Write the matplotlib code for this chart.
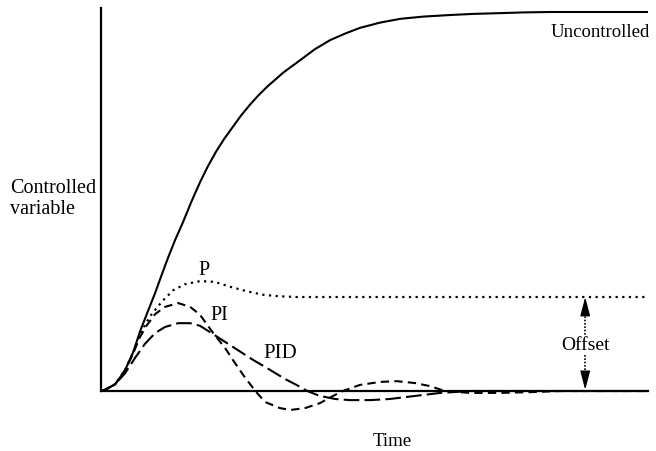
"""
Step responses of a controlled variable: uncontrolled, P, PI and PID control.
"""

import matplotlib
matplotlib.use('Agg')
import matplotlib.pyplot as plt

plt.rcParams['font.family'] = ['Liberation Serif', 'DejaVu Serif']

# Data (time 0..10, uncontrolled final value = 1)
unc_t = [0, 0.07, 0.26, 0.44, 0.59, 0.71, 0.85, 0.99, 1.10, 1.21, 1.35, 1.50,
         1.65, 1.81, 1.95, 2.10, 2.25, 2.41, 2.56, 2.72, 2.87, 3.03, 3.33,
         3.64, 3.91, 4.19, 4.46, 4.73, 5.10, 5.47, 5.90, 6.38, 6.80, 7.29,
         7.75, 8.21, 9.98]
unc_y = [0, 0.003, 0.018, 0.055, 0.103, 0.156, 0.208, 0.259, 0.303, 0.346,
         0.397, 0.446, 0.499, 0.551, 0.592, 0.631, 0.665, 0.697, 0.727,
         0.755, 0.779, 0.802, 0.840, 0.873, 0.902, 0.926, 0.943, 0.958,
         0.972, 0.982, 0.988, 0.992, 0.995, 0.997, 0.999, 1.0, 1.0]

p_t = [0, 0.07, 0.26, 0.44, 0.59, 0.71, 0.90, 1.12, 1.32, 1.54, 1.81, 2.08,
       2.36, 2.67, 2.96, 3.25, 3.58, 9.98]
p_y = [0, 0.003, 0.018, 0.055, 0.103, 0.150, 0.198, 0.237, 0.266, 0.282,
       0.290, 0.288, 0.275, 0.263, 0.254, 0.250, 0.248, 0.248]

pi_t = [0, 0.07, 0.26, 0.44, 0.59, 0.71, 0.84, 0.99, 1.17, 1.41, 1.63, 1.81,
        2.05, 2.27, 2.41, 2.61, 2.82, 3.00, 3.27, 3.46, 3.73, 4.00, 4.24,
        4.42, 4.73, 5.10, 5.41, 5.74, 6.01, 6.29, 6.75, 7.29, 7.84, 8.39, 9.98]
pi_y = [0, 0.003, 0.018, 0.055, 0.100, 0.142, 0.174, 0.203, 0.222, 0.232,
        0.222, 0.201, 0.153, 0.113, 0.082, 0.040, 0.0, -0.029, -0.045,
        -0.050, -0.045, -0.032, -0.013, 0.0, 0.016, 0.024, 0.026, 0.021,
        0.013, 0.0, -0.005, -0.005, -0.003, 0.0, 0.0]

pid_t = [0, 0.07, 0.26, 0.44, 0.62, 0.80, 0.99, 1.17, 1.41, 1.63, 1.81, 2.05,
         2.36, 2.78, 3.03, 3.36, 3.64, 3.77, 4.00, 4.28, 4.55, 4.92, 5.28,
         5.74, 6.20, 6.75, 9.98]
pid_y = [0, 0.003, 0.018, 0.047, 0.087, 0.124, 0.153, 0.169, 0.179, 0.179,
         0.172, 0.150, 0.121, 0.082, 0.061, 0.032, 0.011, 0.0, -0.013,
         -0.021, -0.024, -0.024, -0.021, -0.013, -0.005, 0.0, 0.0]

OFFSET_T = 8.85
OFFSET_Y = 0.248

fig = plt.figure(figsize=(6.56, 4.51), dpi=100)
ax = fig.add_axes([0.154, 0.0687, 0.834, 0.9136])

ax.plot(unc_t, unc_y, color='black', lw=1.5, linestyle='-',
        solid_joinstyle='round')
ax.plot(p_t, p_y, color='black', lw=1.6, linestyle=(0, (1, 2)))
ax.plot(pi_t, pi_y, color='black', lw=1.5, linestyle=(0, (4, 2.5)),
        dash_joinstyle='round')
ax.plot(pid_t, pid_y, color='black', lw=1.5, linestyle=(0, (7.5, 2.5)),
        dash_joinstyle='round')

ax.set_xlim(0, 10.0)
ax.set_ylim(-0.0765, 1.0106)

# Axes: only left spine and a horizontal axis at zero
for side in ['top', 'right']:
    ax.spines[side].set_visible(False)
ax.spines['bottom'].set_position(('data', 0))
ax.spines['left'].set_bounds(0, 1.0106)
ax.spines['left'].set_linewidth(1.6)
ax.spines['bottom'].set_linewidth(1.6)
ax.set_xticks([])
ax.set_yticks([])

# Curve labels
ax.text(9.12, 0.947, 'Uncontrolled', fontsize=13.5, ha='center', va='center')
ax.text(1.88, 0.319, 'P', fontsize=14.5, ha='center', va='center')
ax.text(2.16, 0.198, 'PI', fontsize=14.5, ha='center', va='center')
ax.text(3.27, 0.100, 'PID', fontsize=15, ha='center', va='center')

# Offset arrow
head = dict(arrowstyle='-|>,head_length=1.15,head_width=0.3', color='black',
            lw=1, shrinkA=0, shrinkB=0, mutation_scale=10)
ax.annotate('', xy=(OFFSET_T, OFFSET_Y), xytext=(OFFSET_T, 0.206),
            arrowprops=head)
ax.annotate('', xy=(OFFSET_T, 0.003), xytext=(OFFSET_T, 0.045),
            arrowprops=head)
ax.plot([OFFSET_T, OFFSET_T], [0.206, 0.148], color='black', lw=1.2,
        linestyle=(0, (1, 1)))
ax.plot([OFFSET_T, OFFSET_T], [0.095, 0.045], color='black', lw=1.2,
        linestyle=(0, (1, 1)))
ax.text(OFFSET_T, 0.119, 'Offset', fontsize=14, ha='center', va='center')

# Axis titles
fig.text(10 / 656, 1 - 199 / 451, 'Controlled\nvariable', fontsize=14.5,
         ha='left', va='center', linespacing=1.1)
fig.text(392 / 656, 1 - 441 / 451, 'Time', fontsize=13.5, ha='center',
         va='center')

fig.savefig('out.png', dpi=100)
